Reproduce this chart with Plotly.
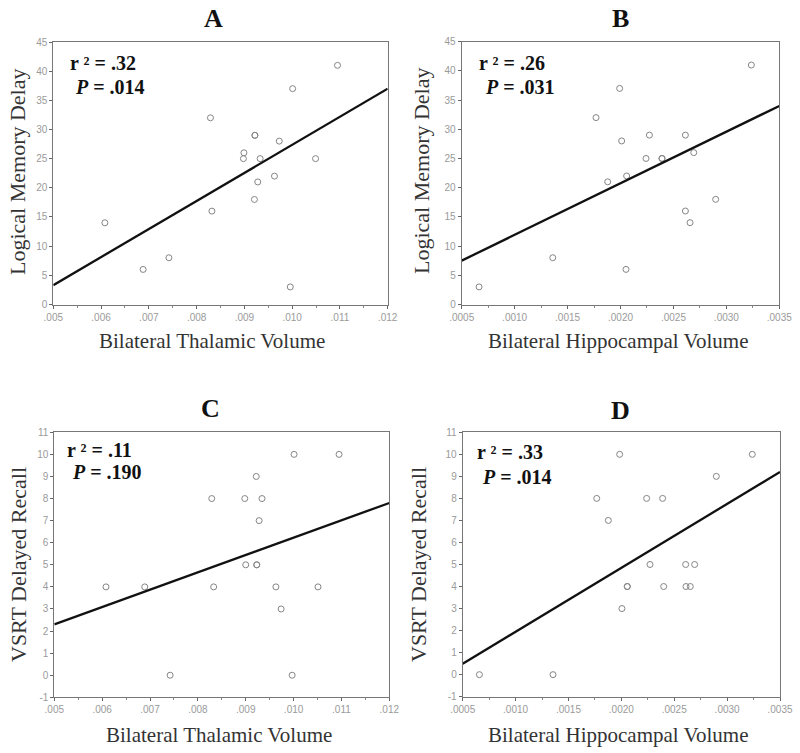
import plotly.graph_objects as go

# ---------------- data ----------------
# Panel A: Bilateral Thalamic Volume vs Logical Memory Delay
thal_A = [.00608, .00688, .00742, .00829, .00832, .00898, .00899, .00921, .00922, .00922,
          .00928, .00933, .00963, .00973, .00996, .01001, .01049, .01095]
lmd_A = [14, 6, 8, 32, 16, 25, 26, 18, 29, 29, 21, 25, 22, 28, 3, 37, 25, 41]
fit_A_x = [.005, .012]
fit_A_y = [3.3, 37.0]

# Panel B: Bilateral Hippocampal Volume vs Logical Memory Delay
hip_B = [.000664, .00136, .001769, .001879, .001992, .002011, .002058, .002052, .002241,
         .002273, .002392, .002392, .002613, .002613, .002657, .002692, .002899, .003236]
lmd_B = [3, 8, 32, 21, 37, 28, 22, 6, 25, 29, 25, 25, 29, 16, 14, 26, 18, 41]
fit_B_x = [.0005, .0035]
fit_B_y = [7.5, 34.0]

# Panel C: Bilateral Thalamic Volume vs VSRT Delayed Recall
thal_C = [.00608, .00689, .00742, .00829, .00833, .00898, .00900, .00922, .00923, .00923,
          .00928, .00934, .00963, .00974, .00997, .01001, .01051, .01095]
vsrt_C = [4, 4, 0, 8, 4, 8, 5, 9, 5, 5, 7, 8, 4, 3, 0, 10, 4, 10]
fit_C_x = [.005, .012]
fit_C_y = [2.3, 7.8]

# Panel D: Bilateral Hippocampal Volume vs VSRT Delayed Recall
hip_D = [.000658, .001354, .001767, .001877, .001984, .002006, .002056, .002056, .002239,
         .002271, .00239, .0024, .002608, .002611, .002652, .002693, .002898, .003238]
vsrt_D = [0, 0, 8, 7, 10, 3, 4, 4, 8, 5, 8, 4, 5, 4, 4, 5, 9, 10]
fit_D_x = [.0005, .0035]
fit_D_y = [0.5, 9.2]

# tick labels
thal_ticks = [.005, .006, .007, .008, .009, .010, .011, .012]
thal_ticktext = [".005", ".006", ".007", ".008", ".009", ".010", ".011", ".012"]
hip_ticks = [.0005, .0010, .0015, .0020, .0025, .0030, .0035]
hip_ticktext = [".0005", ".0010", ".0015", ".0020", ".0025", ".0030", ".0035"]
lmd_ticks = [0, 5, 10, 15, 20, 25, 30, 35, 40, 45]
vsrt_ticks = [-1, 0, 1, 2, 3, 4, 5, 6, 7, 8, 9, 10, 11]

panel_letters = ["A", "B", "C", "D"]
r2_text = [".32", ".26", ".11", ".33"]
p_text = [".014", ".031", ".190", ".014"]

# ---------------- figure ----------------
W, H = 800, 753
SERIF = "Liberation Serif, Times New Roman, serif"
SANS = "Liberation Sans, Arial, sans-serif"


def px(x, y):
    return x / W, 1 - y / H


fig = go.Figure()

panels = [
    (thal_A, lmd_A, fit_A_x, fit_A_y, "x", "y"),
    (hip_B, lmd_B, fit_B_x, fit_B_y, "x2", "y2"),
    (thal_C, vsrt_C, fit_C_x, fit_C_y, "x3", "y3"),
    (hip_D, vsrt_D, fit_D_x, fit_D_y, "x4", "y4"),
]
for xs, ys, fx, fy, xa, ya in panels:
    fig.add_trace(go.Scatter(x=xs, y=ys, mode="markers", xaxis=xa, yaxis=ya,
                             marker=dict(symbol="circle-open", size=6, color="#858585",
                                         line=dict(width=1, color="#858585")),
                             showlegend=False, hoverinfo="x+y"))
    fig.add_trace(go.Scatter(x=fx, y=fy, mode="lines", xaxis=xa, yaxis=ya,
                             line=dict(color="#111111", width=2.3),
                             showlegend=False, hoverinfo="skip"))

tickfont = dict(family=SANS, size=10, color="#9a9a9a")
axis_common = dict(showline=True, mirror=True, linecolor="#777777", linewidth=1,
                   showgrid=False, zeroline=False, ticks="outside", ticklen=3,
                   tickcolor="#666666", tickfont=tickfont, fixedrange=True,
                   automargin=False)

domains = {
    1: ([53.3, 387.7], [42, 305]),
    2: ([461.7, 779.3], [41.7, 305]),
    3: ([54.3, 389.3], [432.3, 697.3]),
    4: ([462.7, 780.0], [432.3, 696.7]),
}

layout = dict(width=W, height=H, margin=dict(l=0, r=0, t=0, b=0, pad=0),
              paper_bgcolor="white", plot_bgcolor="white", showlegend=False)

xspec = {
    1: (thal_ticks, thal_ticktext, [.005, .012], .005, .0005),
    2: (hip_ticks, hip_ticktext, [.0005, .0035], .0005, .00025),
    3: (thal_ticks, thal_ticktext, [.005, .012], .005, .0005),
    4: (hip_ticks, hip_ticktext, [.0005, .0035], .0005, .00025),
}
yspec = {
    1: (lmd_ticks, [-0.1, 45]),
    2: (lmd_ticks, [-0.1, 45]),
    3: (vsrt_ticks, [-1, 11]),
    4: (vsrt_ticks, [-1, 11]),
}

for i in range(1, 5):
    (x0, x1), (y0, y1) = domains[i]
    sx = "" if i == 1 else str(i)
    tv, tt, xr, t0, mdt = xspec[i]
    layout["xaxis" + sx] = dict(axis_common, domain=[x0 / W, x1 / W], range=xr,
                                tickvals=tv, ticktext=tt,
                                anchor="y" + sx,
                                minor=dict(ticks="outside", ticklen=2, tick0=t0, dtick=mdt,
                                           tickcolor="#888888"))
    ytv, yr = yspec[i]
    layout["yaxis" + sx] = dict(axis_common, domain=[1 - y1 / H, 1 - y0 / H], range=yr,
                                tickvals=ytv, ticktext=[str(v) for v in ytv],
                                anchor="x" + sx)

fig.update_layout(**layout)

ann = []


def add_text(x, y, text, size, bold=False, angle=0, xanchor="center", color="#222222"):
    ax, ay = px(x, y)
    if bold:
        text = "<b>" + text + "</b>"
    ann.append(dict(x=ax, y=ay, xref="paper", yref="paper", text=text, showarrow=False,
                    xanchor=xanchor, yanchor="middle", textangle=angle,
                    font=dict(family=SERIF, size=size, color=color)))


# panel letters
letter_pos = [(213, 19), (620, 19), (210, 409), (620, 411)]
for (x, y), t in zip(letter_pos, panel_letters):
    add_text(x, y, t, 26, bold=True, color="#111111")

# axis titles
xtitle_pos = [(212, 341), (618, 341), (219, 735), (618, 735)]
xtitles = ["Bilateral Thalamic Volume", "Bilateral Hippocampal Volume",
           "Bilateral Thalamic Volume", "Bilateral Hippocampal Volume"]
for (x, y), t in zip(xtitle_pos, xtitles):
    add_text(x, y, t, 21, color="#333333")

ytitle_pos = [(17, 172), (421, 171), (18, 565), (418, 565)]
ytitles = ["Logical Memory Delay", "Logical Memory Delay",
           "VSRT Delayed Recall", "VSRT Delayed Recall"]
for (x, y), t in zip(ytitle_pos, ytitles):
    add_text(x, y, t, 22, angle=-90, color="#333333")

# statistics
r_pos = [(68, 63), (477, 63), (65, 450), (475, 452)]
p_pos = [(73, 87), (483, 87), (70, 472), (480, 477)]
for (rx, ry), (ppx, ppy), r2, p in zip(r_pos, p_pos, r2_text, p_text):
    add_text(rx, ry, "r \u00b2 = " + r2, 20, bold=True, xanchor="left", color="#111111")
    add_text(ppx, ppy, "<i>P</i> = " + p, 20, bold=True, xanchor="left", color="#111111")

fig.update_layout(annotations=ann)

fig.write_html("out.html",
               config={"displayModeBar": False},
               post_script="document.body.style.margin='0px';"
                           "document.body.style.overflow='hidden';")
